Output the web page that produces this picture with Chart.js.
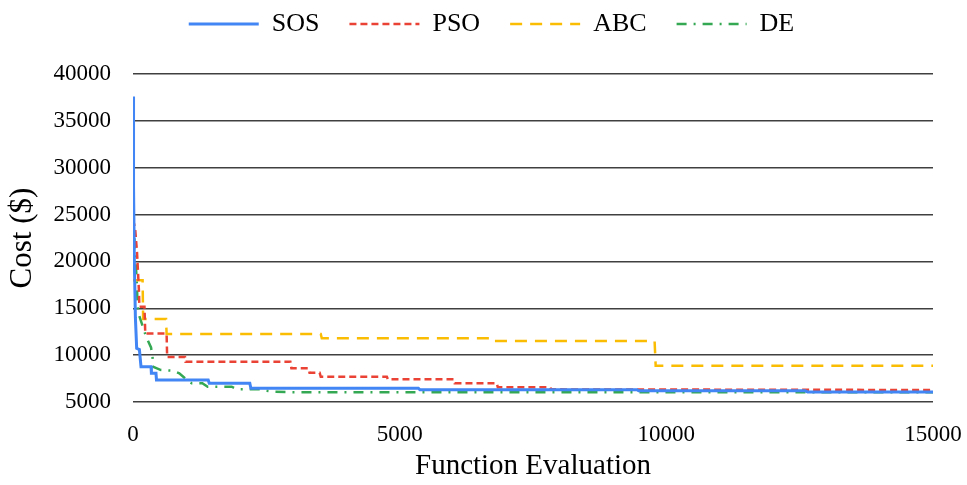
<!DOCTYPE html>
<html><head><meta charset="utf-8">
<script src="https://cdn.jsdelivr.net/npm/chart.js@4.4.1/dist/chart.umd.min.js"></script>
<style>html,body{margin:0;padding:0;background:#fff;}</style>
</head><body>
<canvas id="c" width="967" height="485"></canvas>
<script>
// ---- data ----
const seriesNames = ['SOS', 'PSO', 'ABC', 'DE'];

const sosX = [0, 10, 25, 45, 69, 120, 150, 338, 345, 431, 440, 1410, 1430, 2190, 2210, 5350, 5380, 9450, 9480, 12600, 12650, 15000];
const sosY = [37600, 28000, 20000, 14000, 10730, 10600, 8770, 8770, 8060, 8060, 7350, 7350, 7000, 7000, 6470, 6470, 6300, 6300, 6200, 6200, 6080, 6080];

const psoX = [0, 40, 75, 110, 120, 215, 230, 630, 640, 975, 985, 2950, 2970, 3290, 3310, 3500, 3520, 4760, 4780, 6010, 6030, 6820, 6840, 7820, 7840, 15000];
const psoY = [24500, 23500, 21000, 17000, 15170, 15170, 12300, 12300, 9800, 9800, 9300, 9300, 8590, 8590, 8130, 8130, 7700, 7700, 7420, 7420, 7000, 7000, 6570, 6570, 6350, 6280];

const abcX = [0, 180, 190, 620, 630, 3520, 3540, 6740, 6760, 9780, 9800, 15000];
const abcY = [18000, 18000, 13850, 13850, 12250, 12250, 11800, 11800, 11500, 11500, 8870, 8870];

const deX = [0, 10, 40, 69, 88, 100, 244, 338, 368, 372, 525, 744, 868, 975, 1100, 1300, 1400, 1850, 1950, 2400, 2500, 2650, 3000, 15000];
const deY = [28000, 24000, 21000, 18000, 15170, 14500, 12000, 10830, 9700, 8770, 8410, 8340, 8060, 7530, 7000, 7000, 6630, 6630, 6350, 6350, 6200, 6100, 6050, 6050];

const xTicks = [0, 5000, 10000, 15000];
const yTicks = [5000, 10000, 15000, 20000, 25000, 30000, 35000, 40000];

const xTitle = 'Function Evaluation';
const yTitle = 'Cost ($)';

// ---- styling ----
const FONT = "'Liberation Serif', 'Times New Roman', serif";
const colors = ['#4285F4', '#EA4335', '#FBBC04', '#34A853'];
const dashes = [[], [7, 4], [12, 8], [10, 7, 2, 7]];
const widths = [3, 2.5, 2.5, 2.5];

function pts(xs, ys) { return xs.map((x, i) => ({ x: x, y: ys[i] })); }
const allData = [pts(sosX, sosY), pts(psoX, psoY), pts(abcX, abcY), pts(deX, deY)];

const datasets = seriesNames.map((name, i) => ({
  label: name,
  data: allData[i],
  borderColor: colors[i],
  backgroundColor: colors[i],
  borderWidth: widths[i],
  borderDash: dashes[i],
  borderCapStyle: 'butt',
  pointRadius: 0,
  pointHoverRadius: 0,
  tension: 0,
  fill: false
}));

const legendSpacer = {
  id: 'legendSpacer',
  beforeInit(chart) {
    const origFit = chart.legend.fit;
    chart.legend.fit = function () { origFit.call(this); this.height = 74; };
  },
  afterLayout(chart) {
    const lg = chart.legend;
    lg.top -= 19; lg.bottom -= 19;
    lg.left += 25; lg.right += 25;
  }
};

new Chart(document.getElementById('c').getContext('2d'), {
  type: 'line',
  data: { datasets: datasets },
  plugins: [legendSpacer],
  options: {
    responsive: false,
    animation: false,
    devicePixelRatio: 1,
    layout: { padding: { left: 0, right: 34, top: 0, bottom: 0 } },
    scales: {
      x: {
        type: 'linear',
        min: 0, max: 15000,
        afterBuildTicks: s => { s.ticks = xTicks.map(v => ({ value: v })); },
        afterFit: s => { s.height = 83; s.paddingRight = 0; s.paddingLeft = 0; },
        grid: { display: false, drawTicks: false },
        border: { display: false },
        ticks: {
          padding: 19,
          color: '#000',
          font: { family: FONT, size: 23 },
          maxRotation: 0,
          callback: v => String(v)
        },
        title: {
          display: true, text: xTitle, color: '#000',
          font: { family: FONT, size: 29 },
          padding: { top: 0, bottom: 1 }
        }
      },
      y: {
        type: 'linear',
        min: 5000, max: 40000,
        afterBuildTicks: s => { s.ticks = yTicks.map(v => ({ value: v })); },
        afterFit: s => { s.width = 133; },
        grid: { color: '#404040', lineWidth: 1.5, drawTicks: false },
        border: { display: false },
        ticks: {
          padding: 22,
          color: '#000',
          font: { family: FONT, size: 23 },
          callback: v => String(v)
        },
        title: {
          display: true, text: yTitle, color: '#000',
          font: { family: FONT, size: 31 },
          padding: { top: 4, bottom: 0 }
        }
      }
    },
    plugins: {
      tooltip: { enabled: false },
      legend: {
        position: 'top',
        labels: {
          usePointStyle: true,
          pointStyleWidth: 70,
          padding: 30,
          color: '#000',
          font: { family: FONT, size: 26 },
          generateLabels: chart => chart.data.datasets.map((ds, i) => ({
            text: ds.label,
            fillStyle: 'rgba(0,0,0,0)',
            strokeStyle: ds.borderColor,
            lineWidth: ds.borderWidth,
            lineDash: ds.borderDash,
            lineCap: 'butt',
            pointStyle: 'line',
            fontColor: '#000',
            hidden: false,
            datasetIndex: i
          }))
        }
      }
    }
  }
});
</script>
</body></html>
